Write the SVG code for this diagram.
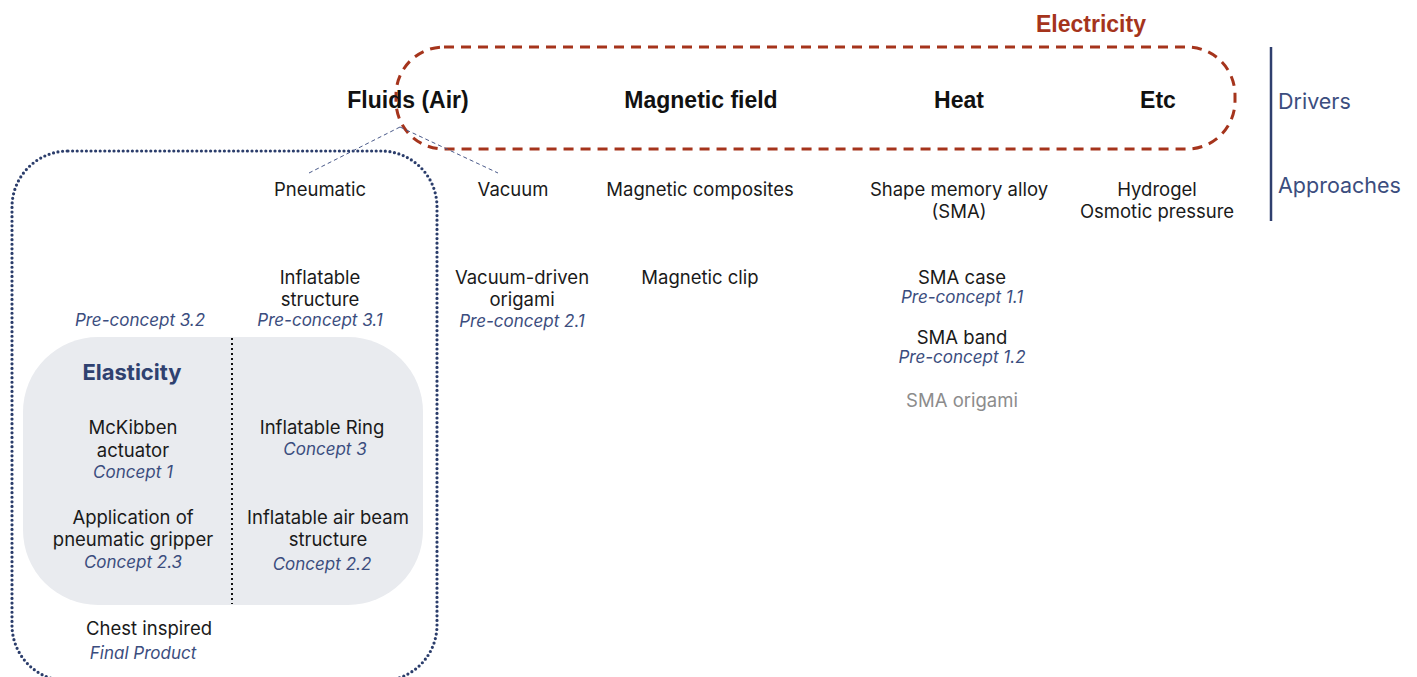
<svg xmlns="http://www.w3.org/2000/svg" width="1417" height="677" viewBox="0 0 1417 677">
<style>
.t{font-family:Inter,"Noto Sans","Liberation Sans",sans-serif;font-size:18.5px;fill:#1a1a1a;text-anchor:middle}
.c{font-family:Inter,"Noto Sans","Liberation Sans",sans-serif;font-size:17px;font-style:italic;fill:#3b4d7e;text-anchor:middle}
.h{font-family:"Liberation Sans",Arial,sans-serif;font-size:23px;font-weight:bold;fill:#111;text-anchor:middle}
.side{font-family:Inter,"Noto Sans","Liberation Sans",sans-serif;font-size:21.5px;fill:#3b4d7e}
</style>
<rect width="1417" height="677" fill="#fff"/>
<g id="electricity-group">
<rect x="396" y="47" width="839" height="102" rx="48" fill="none" stroke="#a5341c" stroke-width="3" stroke-dasharray="10 7"/>
<text x="1091" y="32" class="h" style="fill:#a5341c">Electricity</text>
</g>
<g id="fluids-group">
<rect x="12" y="151" width="425" height="530" rx="56" fill="none" stroke="#2b3d6b" stroke-width="3.2" stroke-dasharray="0 4.6" stroke-linecap="round"/>
</g>
<g id="elasticity-group">
<rect x="23" y="337" width="400" height="268" rx="75" fill="#e9ebef"/>
<line x1="232" y1="338" x2="232" y2="604" stroke="#111" stroke-width="2" stroke-dasharray="2 3"/>
<text x="132" y="380" class="t" style="font-weight:bold;font-size:22px;fill:#2f4170">Elasticity</text>
</g>
<g id="connectors">
<line x1="400" y1="127" x2="309" y2="173" stroke="#4a5a8a" stroke-width="1" stroke-dasharray="4 3"/>
<line x1="400" y1="127" x2="498" y2="173" stroke="#4a5a8a" stroke-width="1" stroke-dasharray="4 3"/>
</g>
<g id="legend">
<line x1="1271" y1="47" x2="1271" y2="221" stroke="#2f3f6e" stroke-width="2.5"/>
<text x="1278" y="109" class="side">Drivers</text>
<text x="1278" y="193" class="side">Approaches</text>
</g>
<g id="driver-fluids"><text x="408" y="108" class="h">Fluids (Air)</text></g>
<g id="driver-magnetic"><text x="701" y="108" class="h">Magnetic field</text></g>
<g id="driver-heat"><text x="959" y="108" class="h">Heat</text></g>
<g id="driver-etc"><text x="1158" y="108" class="h">Etc</text></g>
<g id="approach-pneumatic"><text x="320" y="196" class="t">Pneumatic</text></g>
<g id="approach-vacuum"><text x="513" y="196" class="t">Vacuum</text></g>
<g id="approach-magcomp"><text x="700" y="196" class="t">Magnetic composites</text></g>
<g id="approach-sma"><text x="959" y="196" class="t">Shape memory alloy</text><text x="959" y="218" class="t">(SMA)</text></g>
<g id="approach-hydrogel"><text x="1157" y="196" class="t">Hydrogel</text><text x="1157" y="218" class="t">Osmotic pressure</text></g>
<g id="inflatable-structure"><text x="320" y="284" class="t">Inflatable</text><text x="320" y="306" class="t">structure</text><text x="320" y="326" class="c">Pre-concept 3.1</text></g>
<g id="preconcept-32"><text x="140" y="326" class="c">Pre-concept 3.2</text></g>
<g id="vacuum-origami"><text x="522" y="284" class="t">Vacuum-driven</text><text x="522" y="306" class="t">origami</text><text x="522" y="327" class="c">Pre-concept 2.1</text></g>
<g id="magnetic-clip"><text x="700" y="284" class="t">Magnetic clip</text></g>
<g id="sma-case"><text x="962" y="284" class="t">SMA case</text><text x="962" y="303" class="c">Pre-concept 1.1</text></g>
<g id="sma-band"><text x="962" y="344" class="t">SMA band</text><text x="962" y="363" class="c">Pre-concept 1.2</text></g>
<g id="sma-origami"><text x="962" y="407" class="t" style="fill:#8c8c8c">SMA origami</text></g>
<g id="mckibben"><text x="133" y="434" class="t">McKibben</text><text x="133" y="457" class="t">actuator</text><text x="133" y="478" class="c">Concept 1</text></g>
<g id="inflatable-ring"><text x="322" y="434" class="t">Inflatable Ring</text><text x="325" y="455" class="c">Concept 3</text></g>
<g id="gripper"><text x="133" y="524" class="t">Application of</text><text x="133" y="546" class="t">pneumatic gripper</text><text x="133" y="568" class="c">Concept 2.3</text></g>
<g id="air-beam"><text x="328" y="524" class="t">Inflatable air beam</text><text x="328" y="546" class="t">structure</text><text x="322" y="570" class="c">Concept 2.2</text></g>
<g id="chest"><text x="149" y="635" class="t">Chest inspired</text><text x="143" y="659" class="c">Final Product</text></g>
</svg>
